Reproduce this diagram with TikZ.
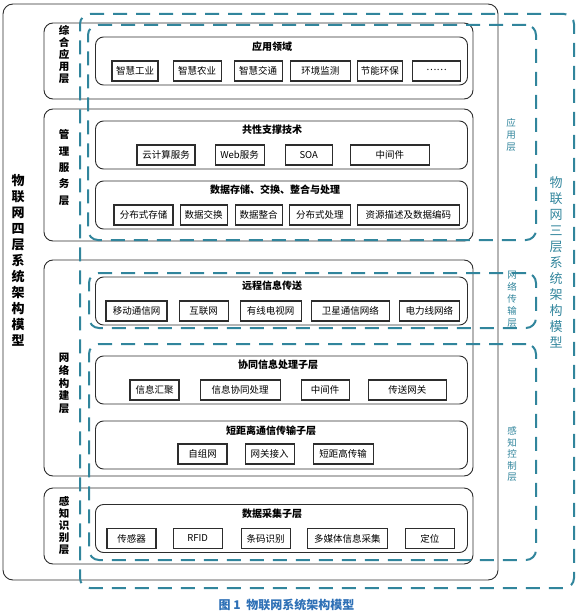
\documentclass[tikz,border=0pt]{standalone}
\usepackage{fontspec}
\setmainfont{Noto Sans CJK SC}
\usetikzlibrary{positioning}
\definecolor{teal1}	{RGB}{49,133,156}
\definecolor{blue1}	{RGB}{46,112,182}
\definecolor{gray1}	{RGB}{45,45,45}
\tikzset{node distance=6pt and 8pt}
\tikzstyle{frame}=	[draw=gray1, line width=0.9pt, rounded corners=9pt, inner sep=0pt]
\tikzstyle{group}=	[frame, rounded corners=8pt, minimum width=372pt, minimum height=48pt]
\tikzstyle{layer}=	[frame, minimum width=429pt]
\tikzstyle{item}=	[draw=gray1, line width=1.1pt, minimum height=20pt, inner sep=0pt, font=\fontsize{9.5}{10}\selectfont]
\tikzstyle{gtitle}=	[inner sep=0pt, font=\fontsize{10}{11}\bfseries\selectfont]
\tikzstyle{zone}=	[draw=teal1, line width=2pt, dash pattern=on 14pt off 9pt, rounded corners=10pt, inner sep=0pt]
\tikzstyle{caption}=	[inner sep=0pt, text=blue1, font=\fontsize{12}{14}\bfseries\selectfont]
\tikzset{
	lname/.style={align=center, inner sep=0pt, font=\fontsize{10.5}{#1}\bfseries\selectfont},
	zname/.style={align=center, inner sep=0pt, text=teal1, font=\fontsize{9.5}{#1}\selectfont},
	mname/.style={align=center, inner sep=0pt, font=\fontsize{13}{16}\bfseries\selectfont},
}

\begin{document}
\begin{tikzpicture}[x=1pt, y=-1pt]

	\useasboundingbox (0,0) rectangle (577,612);

	%%% four layer model
	% outer frame and name
	\node[frame, rounded corners=10pt, minimum width=495pt, minimum height=576pt] (f4) at (250.5,292) {};
	\node[mname] (f4n) at (18,260) {物\\联\\网\\四\\层\\系\\统\\架\\构\\模\\型};

	% layers
	\node[layer, minimum height=76pt] 	(l1) at (258.5,61) 	{};
	\node[layer, minimum height=132pt] 	(l2) at (258.5,175) 	{};
	\node[layer, minimum height=216pt] 	(l3) at (258.5,368) 	{};
	\node[layer, minimum height=76pt] 	(l4) at (258.5,526) 	{};

	\node[lname=11.8] (l1n) at (64,54.5) 	{综\\合\\应\\用\\层};
	\node[lname=16.3] (l2n) at (64,167.5) 	{管\\理\\服\\务\\层};
	\node[lname=12.7] (l3n) at (64,383.5) 	{网\\络\\构\\建\\层};
	\node[lname=12] 	(l4n) at (64,526) 	{感\\知\\识\\别\\层};

	%%% groups
	% application fields
	\node[group] (g1) at (281.5,61) {};
	\node[gtitle] (g1t) at (272,47) {应用领域};
	\node[item, minimum width=46pt] 			(a1) at (135,71) {智慧工业};
	\node[item, minimum width=48pt, right=14pt of a1] 	(a2) {智慧农业};
	\node[item, minimum width=48pt, right=12pt of a2] 	(a3) {智慧交通};
	\node[item, minimum width=60pt, right=7pt of a3] 	(a4) {环境监测};
	\node[item, minimum width=45pt, right=6pt of a4] 	(a5) {节能环保};
	\node[item, minimum width=48pt, right=9pt of a5] 	(a6) {\raisebox{2.5pt}{……}};

	% common support
	\node[group] (g2) at (281.5,145) {};
	\node[gtitle] (g2t) at (272,130) {共性支撑技术};
	\node[item, minimum width=58pt] 			(c1) at (166,155) {云计算服务};
	\node[item, minimum width=49pt, right=19pt of c1] 	(c2) {Web服务};
	\node[item, minimum width=47pt, right=20pt of c2] 	(c3) {SOA};
	\node[item, minimum width=79pt, right=17pt of c3] 	(c4) {中间件};

	% data handling
	\node[group] (g3) at (281.5,205) {};
	\node[gtitle] (g3t) at (275,190) {数据存储、交换、整合与处理};
	\node[item, minimum width=59pt] 			(d1) at (143.5,215) {分布式存储};
	\node[item, minimum width=47pt, right=6pt of d1] 	(d2) {数据交换};
	\node[item, minimum width=47pt, right=7pt of d2] 	(d3) {数据整合};
	\node[item, minimum width=61pt, right=6pt of d3] 	(d4) {分布式处理};
	\node[item, minimum width=102pt, right=6pt of d4] 	(d5) {资源描述及数据编码};

	% remote transfer
	\node[group] (g4) at (281.5,301) {};
	\node[gtitle] (g4t) at (272,286) {远程信息传送};
	\node[item, minimum width=61pt] 			(r1) at (136.5,311) {移动通信网};
	\node[item, minimum width=49pt, right=11pt of r1] 	(r2) {互联网};
	\node[item, minimum width=61pt, right=11pt of r2] 	(r3) {有线电视网};
	\node[item, minimum width=78pt, right=9pt of r3] 	(r4) {卫星通信网络};
	\node[item, minimum width=60pt, right=9pt of r4] 	(r5) {电力线网络};

	% cooperative processing
	\node[group] (g5) at (281.5,380) {};
	\node[gtitle] (g5t) at (278,365) {协同信息处理子层};
	\node[item, minimum width=49pt] 			(s1) at (154.5,390) {信息汇聚};
	\node[item, minimum width=80pt, right=20pt of s1] 	(s2) {信息协同处理};
	\node[item, minimum width=48pt, right=20pt of s2] 	(s3) {中间件};
	\node[item, minimum width=78pt, right=18pt of s3] 	(s4) {传送网关};

	% short range
	\node[group] (g6) at (281.5,445) {};
	\node[gtitle] (g6t) at (271,431) {短距离通信传输子层};
	\node[item, minimum width=49pt] 			(n1) at (202.5,454) {自组网};
	\node[item, minimum width=49pt, right=17pt of n1] 	(n2) {网关接入};
	\node[item, minimum width=60pt, right=18pt of n2] 	(n3) {短距高传输};

	% data acquisition
	\node[group] (g7) at (281.5,528.5) {};
	\node[gtitle] (g7t) at (272,514) {数据采集子层};
	\node[item, minimum width=49pt] 			(p1) at (131.5,538.5) {传感器};
	\node[item, minimum width=49pt, right=16pt of p1] 	(p2) {RFID};
	\node[item, minimum width=49pt, right=18pt of p2] 	(p3) {条码识别};
	\node[item, minimum width=80pt, right=16pt of p3] 	(p4) {多媒体信息采集};
	\node[item, minimum width=49pt, right=17pt of p4] 	(p5) {定位};

	%%% three layer model
	% zones
	\node[zone, minimum width=494pt, minimum height=574pt] 	(z0) at (327,301) 	{};
	\node[zone, minimum width=448pt, minimum height=215pt] 	(z1) at (312,132.5) 	{};
	\node[zone, minimum width=447pt, minimum height=55pt] 	(z2) at (312.5,300.5) 	{};
	\node[zone, minimum width=447pt, minimum height=216pt] 	(z3) at (312.5,452) 	{};

	% names
	\node[zname=12] 	(z1n) at (511,135) 	{应\\用\\层};
	\node[zname=12] 	(z2n) at (512,299) 	{网\\络\\传\\输\\层};
	\node[zname=11.5] (z3n) at (512,454) 	{感\\知\\控\\制\\层};
	\node[mname, text=teal1, font=\fontsize{13}{16}\selectfont] (z0n) at (556,262) {物\\联\\网\\三\\层\\系\\统\\架\\构\\模\\型};

	% caption
	\node[caption] (cap) at (286.5,605) {图 1\ \ 物联网系统架构模型};

\end{tikzpicture}
\end{document}
